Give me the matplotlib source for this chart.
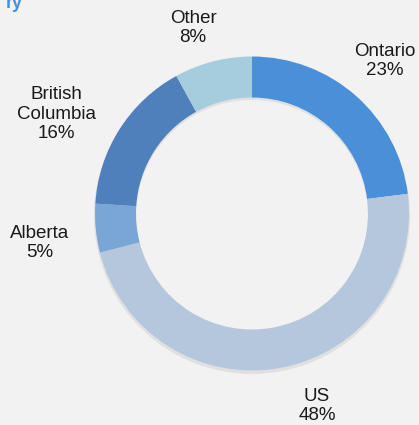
import matplotlib.pyplot as plt

plt.rcParams['font.family'] = ['Liberation Sans', 'DejaVu Sans']

# share by region, clockwise from 12 o'clock
regions = ["Ontario", "US", "Alberta", "British\nColumbia", "Other"]
shares = [23, 48, 5, 16, 8]
colors = ["#4a90d9", "#b4c7dd", "#79a6d4", "#4f80bc", "#a6cddd"]

W, H = 419, 425
fig = plt.figure(figsize=(W / 100, H / 100), dpi=100, facecolor="#f2f2f2")
ax = fig.add_axes([0, 0, 1, 1])
ax.set_facecolor("#f2f2f2")

cx, cy, r = 252, H - 213.5, 157

# soft drop shadow under the ring
ax.pie(shares, colors=["#000000"] * len(shares), startangle=90,
       counterclock=False, center=(cx, cy - 2.5), radius=r + 1, frame=True,
       wedgeprops=dict(width=42, edgecolor="none", alpha=0.07))
ax.pie(shares, colors=colors, startangle=90, counterclock=False,
       center=(cx, cy), radius=r, frame=True,
       wedgeprops=dict(width=41, edgecolor="none"))
ax.set_xlim(0, W)
ax.set_ylim(0, H)
ax.set_aspect("equal")
ax.axis("off")

# data labels
label_pos = {
    "Ontario": (385, 61),
    "US": (317, 406),
    "Alberta": (40, 243),
    "British\nColumbia": (56, 114),
    "Other": (193, 28),
}
for name, val in zip(regions, shares):
    x, y = label_pos[name]
    ax.text(x, H - y, f"{name}\n{val}%", ha="center", va="center",
            fontsize=13.5, color="#1a1a1a", linespacing=1.2)

# cut-off title fragment
ax.text(23, H - 3, "ry", ha="right", va="center", fontsize=13,
        fontweight="bold", color="#4a90d9")

fig.savefig("out.png", dpi=100, facecolor=fig.get_facecolor())
